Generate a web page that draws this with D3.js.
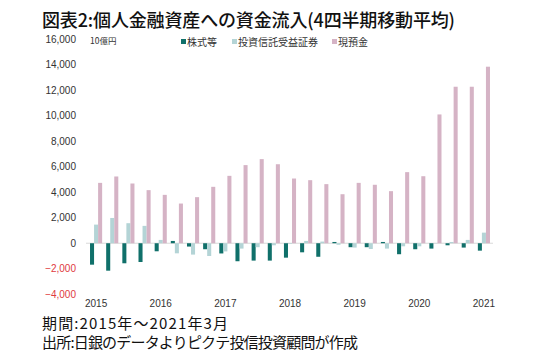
<!DOCTYPE html>
<html>
<head>
<meta charset="utf-8">
<script src="https://cdn.jsdelivr.net/npm/d3@7"></script>
<style>
  body { margin: 0; background: #fff; }
  svg { display: block; font-family: "Noto Sans CJK JP", "Noto Sans", sans-serif; }
</style>
</head>
<body>
<div class="chart"></div>
<script>
// quarters 2015Q1 .. 2021Q1
var quarters = [];
for (let y = 2015; y <= 2021; y++) for (let q = 1; q <= 4; q++) if (y < 2021 || q == 1) quarters.push(y + "Q" + q);
var yearTicks = ["2015", "2016", "2017", "2018", "2019", "2020", "2021"];
var seriesNames = ["株式等", "投資信託受益証券", "現預金"];
var colors = ["#10706a", "#b4d4d6", "#d5b3c5"];

// 10億円
var stocks = [-1680, -2150, -1570, -1470, -630, 180, -260, -470, -800, -1410, -1360, -1360,
  -1130, -710, -1060, 100, -310, -310, 100, -860, -470, -420, -160, -340, -580];
var trusts = [1460, 1980, 1570, 1360, 260, -790, -890, -1000, -640, -420, -310, -160,
  -50, 180, 130, -120, -340, -450, -420, -240, -240, -20, 100, 260, 830];
var deposits = [4730, 5230, 4680, 4160, 3790, 3110, 3610, 4420, 5280, 6120, 6590, 6190,
  5070, 4940, 4630, 3840, 4730, 4580, 4080, 5570, 5250, 10090, 12260, 12260, 13830];
var yTicks = [-4000, -2000, 0, 2000, 4000, 6000, 8000, 10000, 12000, 14000, 16000];

var W = 550, H = 353;
var svg = d3.select(".chart").append("svg").attr("width", W).attr("height", H);

var x = d3.scaleBand().domain(quarters).range([88, 492]).paddingInner(0.25).paddingOuter(0.125);
var xs = d3.scaleBand().domain(d3.range(3)).range([0, x.bandwidth()]);
var y = d3.scaleLinear().domain([-4000, 16000]).range([294.3, 39]);

// title
svg.append("text").attr("x", 42).attr("y", 27)
  .attr("font-size", 18).attr("font-weight", 500).attr("fill", "#111")
  .attr("textLength", 413).attr("lengthAdjust", "spacing")
  .text("図表2:個人金融資産への資金流入(4四半期移動平均)");

// y axis labels
var yAxis = svg.append("g").attr("transform", "translate(76,0)")
  .call(d3.axisLeft(y).tickValues(yTicks).tickSize(0).tickPadding(0).tickFormat(d3.format(",")));
yAxis.select(".domain").remove();
yAxis.selectAll("text").attr("font-size", 10).attr("font-family", "Liberation Sans, Arial, sans-serif")
  .attr("fill", d => d < 0 ? "#e03a3e" : "#333");

svg.append("text").attr("x", 90).attr("y", 44).attr("font-size", 8.5).attr("fill", "#333").text("10億円");

// zero line
svg.append("line").attr("x1", 86).attr("x2", 493).attr("y1", y(0)).attr("y2", y(0))
  .attr("stroke", "#d9d9d9").attr("stroke-width", 1);

// bars
var data = [stocks, trusts, deposits];
data.forEach(function (vals, si) {
  svg.append("g").selectAll("rect").data(vals).join("rect")
    .attr("x", (d, i) => x(quarters[i]) + xs(si))
    .attr("width", xs.bandwidth())
    .attr("y", d => y(Math.max(0, d)))
    .attr("height", d => Math.abs(y(d) - y(0)))
    .attr("fill", colors[si]);
});

// x labels
svg.append("g").selectAll("text").data(yearTicks).join("text")
  .attr("x", d => x(d + "Q1") + x.bandwidth() / 2)
  .attr("y", 307).attr("text-anchor", "middle")
  .attr("font-size", 10).attr("font-family", "Liberation Sans, Arial, sans-serif").attr("fill", "#333")
  .text(d => d);

// legend
var legX = [181, 232, 332];
seriesNames.forEach(function (n, i) {
  svg.append("rect").attr("x", legX[i]).attr("y", 39).attr("width", 5).attr("height", 5).attr("fill", colors[i]);
  svg.append("text").attr("x", legX[i] + 6).attr("y", 46).attr("font-size", 10).attr("fill", "#333").text(n);
});

// footer
svg.append("text").attr("x", 42).attr("y", 329).attr("font-size", 15).attr("fill", "#111")
  .attr("textLength", 186).attr("lengthAdjust", "spacing")
  .text("期間:2015年～2021年3月");
svg.append("text").attr("x", 42).attr("y", 348).attr("font-size", 15).attr("fill", "#111")
  .attr("textLength", 316).attr("lengthAdjust", "spacing")
  .text("出所:日銀のデータよりピクテ投信投資顧問が作成");
</script>
</body>
</html>
